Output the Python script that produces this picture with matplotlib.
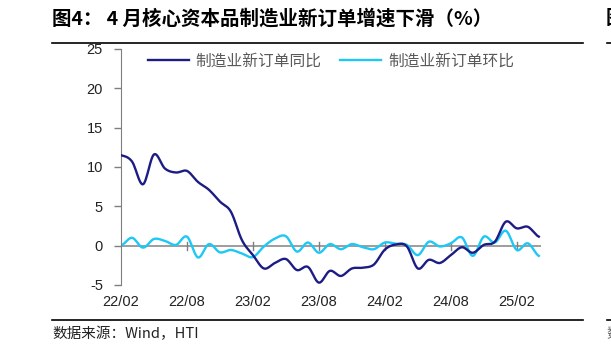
"""Core capital goods new orders: YoY vs MoM."""
import matplotlib
matplotlib.use("Agg")
import matplotlib.pyplot as plt
import numpy as np

plt.rcParams["font.family"] = ["Liberation Sans", "Noto Sans CJK SC", "DejaVu Sans"]
plt.rcParams["axes.unicode_minus"] = False

# monthly, 2022/02 .. 2025/04
months = ["22/02", "22/03", "22/04", "22/05", "22/06", "22/07", "22/08", "22/09", "22/10", "22/11",
          "22/12", "23/01", "23/02", "23/03", "23/04", "23/05", "23/06", "23/07", "23/08", "23/09",
          "23/10", "23/11", "23/12", "24/01", "24/02", "24/03", "24/04", "24/05", "24/06", "24/07",
          "24/08", "24/09", "24/10", "24/11", "24/12", "25/01", "25/02", "25/03", "25/04"]
yoy = [11.5, 10.7, 7.8, 11.6, 9.8, 9.3, 9.5, 8.1, 7.1, 5.6,
       4.3, 0.7, -1.2, -2.9, -2.2, -1.7, -3.1, -2.7, -4.7, -3.2,
       -3.85, -2.9, -2.8, -2.4, -0.5, 0.15, -0.1, -2.9, -1.8, -2.2,
       -1.2, -0.2, -0.9, 0.1, 0.5, 3.05, 2.2, 2.4, 1.15]
mom = [0.0, 1.0, -0.25, 0.85, 0.6, 0.1, 1.15, -1.5, 0.2, -0.85,
       -0.55, -1.0, -1.45, -0.1, 0.9, 1.2, -0.75, 0.4, -0.9, 0.2,
       -0.45, 0.2, -0.2, -0.45, 0.4, 0.25, 0.1, -1.2, 0.5, -0.1,
       0.3, 1.05, -1.3, 1.15, 0.4, 1.9, -0.55, 0.3, -1.3]
tick_labels = ["22/02", "22/08", "23/02", "23/08", "24/02", "24/08", "25/02"]
series_names = ["制造业新订单同比", "制造业新订单环比"]
title = "图4： 4 月核心资本品制造业新订单增速下滑（%）"
source = "数据来源：Wind，HTI"


def smooth(y, n=12):
    # Catmull-Rom through the points, similar to Excel's smoothed line
    y = np.asarray(y, float)
    p = np.concatenate([[y[0]], y, [y[-1]]])
    xs, ys = [], []
    t = np.linspace(0, 1, n, endpoint=False)
    for i in range(len(y) - 1):
        p0, p1, p2, p3 = p[i], p[i + 1], p[i + 2], p[i + 3]
        seg = 0.5 * ((2 * p1) + (-p0 + p2) * t + (2 * p0 - 5 * p1 + 4 * p2 - p3) * t ** 2
                     + (-p0 + 3 * p1 - 3 * p2 + p3) * t ** 3)
        xs.extend(i + t)
        ys.extend(seg)
    xs.append(len(y) - 1)
    ys.append(y[-1])
    return np.array(xs), np.array(ys)


fig = plt.figure(figsize=(6.11, 3.53), dpi=100)
ax = fig.add_axes([121 / 611, 68 / 353, 420 / 611, 236 / 353])

ax.axhline(0, color="#8c8c8c", lw=1.2, zorder=1)
sx, sy = smooth(yoy)
ax.plot(sx, sy, color="#1c1c84", lw=1.7, label=series_names[0], zorder=3)
sx, sy = smooth(mom)
ax.plot(sx, sy, color="#1ec8f5", lw=1.7, label=series_names[1], zorder=2)

ax.set_xlim(0, 38.2)
ax.set_ylim(-5, 25)
ax.set_yticks(np.arange(-5, 26, 5))
ax.tick_params(axis="y", length=5, width=1, color="#7f7f7f", pad=8, labelsize=10.5, labelcolor="#222222")
for s in ["top", "right"]:
    ax.spines[s].set_visible(False)
ax.spines["left"].set_color("#7f7f7f")
ax.spines["bottom"].set_visible(False)

# tick marks on the zero line, labels below the plot
tick_pos = [months.index(t) for t in tick_labels]
ax.set_xticks(tick_pos)
ax.set_xticklabels([])
ax.tick_params(axis="x", length=0)
for p in tick_pos[1:]:
    ax.plot([p, p], [-0.5, 0.5], color="#7f7f7f", lw=1, zorder=1)
sec = ax.secondary_xaxis("bottom")
sec.set_xticks(tick_pos)
sec.set_xticklabels(tick_labels)
sec.tick_params(length=0, pad=7, labelsize=10.5, labelcolor="#222222")
sec.spines["bottom"].set_visible(False)

leg = ax.legend(loc="upper left", bbox_to_anchor=(0.03, 1.045), ncol=2, frameon=False,
                handlelength=2.6, columnspacing=1.2, handletextpad=0.45,
                prop={"family": ["Noto Sans CJK SC"], "size": 11.3})
for t in leg.get_texts():
    t.set_color("#595959")

fig.text(52 / 611, 1 - 19 / 353, title, fontsize=14, fontweight="bold", va="center", ha="left",
         family=["Noto Sans CJK SC", "DejaVu Sans"])
fig.add_artist(plt.Line2D([52 / 611, 583 / 611], [1 - 43 / 353] * 2, color="black", lw=1.2))
fig.add_artist(plt.Line2D([52 / 611, 583 / 611], [1 - 320 / 353] * 2, color="black", lw=1.2))
fig.text(52 / 611, 1 - 334 / 353, source, fontsize=10.5, va="center", ha="left", color="#222222",
         family=["Noto Sans CJK SC", "DejaVu Sans"])
# edge of the neighbouring chart
fig.add_artist(plt.Line2D([607 / 611, 1], [1 - 43 / 353] * 2, color="black", lw=1.2))
fig.add_artist(plt.Line2D([607 / 611, 1], [1 - 320 / 353] * 2, color="black", lw=1.2))
fig.text(606 / 611, 1 - 19 / 353, "图", fontsize=14, fontweight="bold", va="center", ha="left",
         family=["Noto Sans CJK SC"])
fig.text(606 / 611, 1 - 334 / 353, "数", fontsize=10.5, va="center", ha="left", color="#666666",
         family=["Noto Sans CJK SC"])

fig.savefig("out.png", dpi=100)
